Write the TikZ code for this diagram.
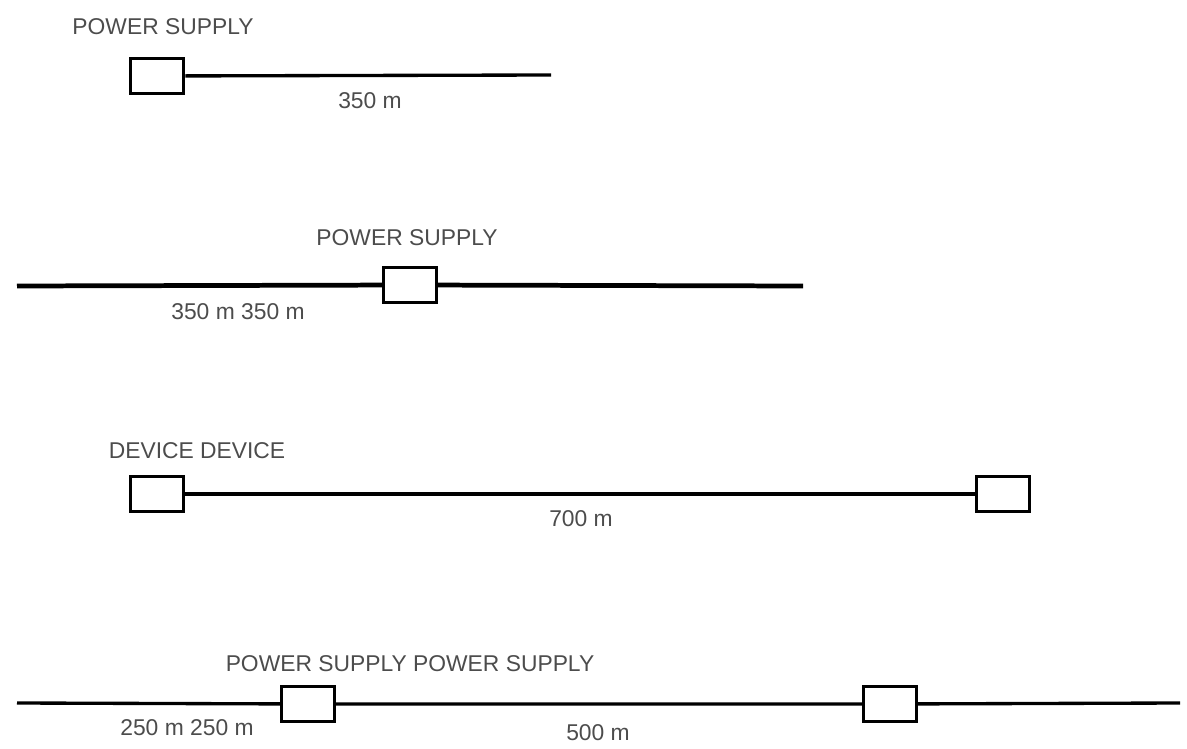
\documentclass[tikz,border=0pt]{standalone}
\usepackage{fontspec}
\setmainfont{Liberation Sans}
\usetikzlibrary{positioning}
\begin{document}
\begin{tikzpicture}[x=0.02cm,y=-0.02cm,
	unit/.style={draw, rectangle, fill=white, line width=1.5pt, minimum width=1.06cm, minimum height=0.7cm, inner sep=0pt},
	label/.style={text=black!70, font=\fontsize{13}{15}\selectfont, inner sep=0pt},
	cable/.style={line width=1.9pt}]
	\useasboundingbox (0,0) rectangle (1187,749);
	% first: supply at one end
	\node[unit, line width=2pt] (S1) at (157,76) {};
	\coordinate (E1) at (551,75);
	\draw[cable] (S1) -- (E1);
	\node[label] (L1) at (163,27) {POWER SUPPLY};
	\node[label] (D1) at (370,101) {350 m};
	
	% second: supply in the middle
	\coordinate (A2) at (17,286);
	\coordinate (B2) at (803,286);
	\node[unit] (S2) at (410,285) {};
	\draw[cable, line width=2.7pt] (A2) -- (S2) -- (B2);
	\node[label] (L2) at (407,238) {POWER SUPPLY};
	\node[label] (D2) at (238,312) {350 m 350 m};
	
	% third: two devices
	\node[unit] (V1) at (157,494) {};
	\node[unit] (V2) at (1003,494) {};
	\draw[cable] (V1) -- (V2);
	\node[label] (L3) at (197,451) {DEVICE DEVICE};
	\node[label] (D3) at (581,519) {700 m};
	
	% fourth: two supplies
	\coordinate (A4) at (17,703);
	\coordinate (B4) at (1180,703);
	\node[unit] (S4a) at (308,704) {};
	\node[unit] (S4b) at (890,704) {};
	\draw[cable] (A4) -- (S4a) -- (S4b) -- (B4);
	\node[label] (L4) at (410,664) {POWER SUPPLY POWER SUPPLY};
	\node[label] (D4a) at (187,728) {250 m 250 m};
	\node[label] (D4b) at (598,733) {500 m};
\end{tikzpicture}
\end{document}
